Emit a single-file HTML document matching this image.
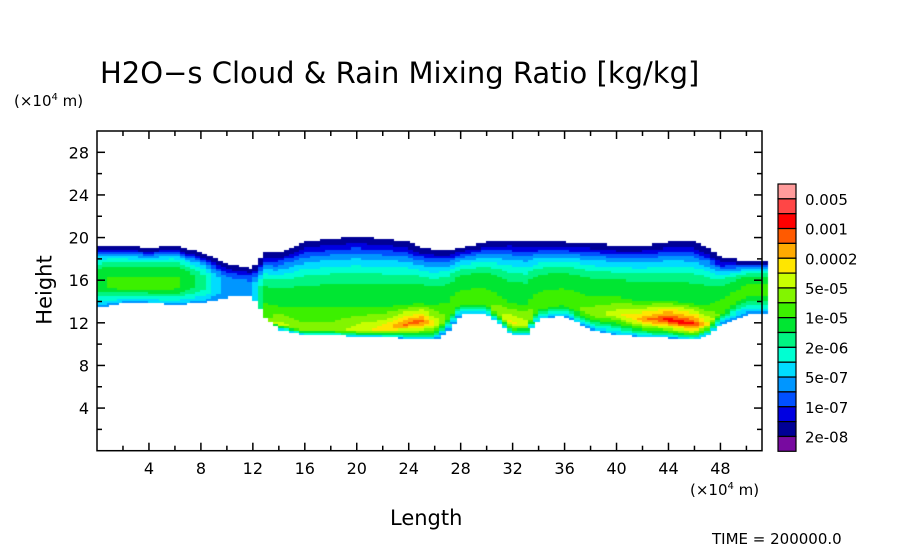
<!DOCTYPE html>
<html><head><meta charset="utf-8"><style>
body{margin:0;background:#fff;width:904px;height:544px;overflow:hidden;position:relative;font-family:"DejaVu Sans","Liberation Sans",sans-serif}
.t{position:absolute;white-space:nowrap;color:#000}
</style></head><body>
<div class="t" style="left:100px;top:56px;font-size:29px">H2O−s Cloud &amp; Rain Mixing Ratio [kg/kg]</div>
<div class="t" style="left:14px;top:92px;font-size:15px">(×10<sup style="font-size:10px">4</sup> m)</div>
<div class="t" style="left:690px;top:481px;font-size:15px">(×10<sup style="font-size:10px">4</sup> m)</div>
<div class="t" style="left:10px;top:278px;font-size:21px;transform:rotate(-90deg);transform-origin:center">Height</div>
<div class="t" style="left:390px;top:506px;font-size:21px">Length</div>
<div class="t" style="left:712px;top:530px;font-size:15px">TIME = 200000.0</div>
<canvas id="c" width="904" height="544" style="position:absolute;left:0;top:0"></canvas>
<svg id="s" width="904" height="544" style="position:absolute;left:0;top:0"></svg>
<script>
const xs=[0,2,4,6,8,10,12,13,14,16,18,20,22,24,25,26,27,28,30,32,33,34,36,38,40,42,44,46,47,48,50,51.2];
const tops=[19.2,19.2,19,19.2,18.5,17.5,17,18.5,18.5,19.5,19.8,20,19.8,19.5,19,18.8,18.8,19,19.5,19.7,19.5,19.5,19.5,19.4,19.2,19.2,19.5,19.5,19,18,17.8,17.8];
const bottoms=[13.5,14,14,13.8,14,14.5,14.5,12.5,11.5,11,11,10.8,10.8,10.6,10.5,10.5,11.5,13,13,11,11,12.5,12.8,11.5,11,10.8,10.7,10.5,11,12,13,13];
const peaks=[8,9,9,9,7,4,4,9,11,10,10,11,12,14,14,12,9,9,9,12,11,9,9,10,11,13,15,15,12,9,9,9];
const peakH=[15.5,15.5,15.5,15.5,15.5,15,15,12.5,12,11.5,11.5,11.5,11.5,12,12.3,12,12.5,14,14,12,12,13.5,14,13,13,12.5,12.5,12,12,13,15,15];
const levelColors=["#780aa0","#000096","#0000e1","#0050ff","#0096ff","#00dcff","#00ffd2","#00f582","#00e632","#3cf000","#82f500","#c8ff00","#ffe600","#ffaa00","#ff5a00","#ff0000","#ff4646","#ff9b9b"];
const legendLabels=["0.005","0.001","0.0002","5e-05","1e-05","2e-06","5e-07","1e-07","2e-08"];
const yTicks=[4,8,12,16,20,24,28];
const xTicks=[4,8,12,16,20,24,28,32,36,40,44,48];
const X0=97,X1=762,Y0=450.7,Y1=131,XMAX=51.2,YMAX=30;
const sx=v=>X0+(X1-X0)*v/XMAX, sy=v=>Y0-(Y0-Y1)*v/YMAX;
function interp(arr,x){for(let i=0;i<xs.length-1;i++){if(x<=xs[i+1]){const t=(x-xs[i])/(xs[i+1]-xs[i]);return arr[i]+(arr[i+1]-arr[i])*t;}}return arr[arr.length-1];}
const ctx=document.getElementById('c').getContext('2d');
for(let x=0;x<XMAX;x+=0.4){const xc=x+0.2;const tp=interp(tops,xc),bt=interp(bottoms,xc),pk=interp(peaks,xc),ph=interp(peakH,xc);
 for(let h=8;h<22;h+=0.2){const hc=h+0.1;if(hc>tp||hc<bt)continue;let lv,d;
  const base=Math.min(pk,8.5);
  if(hc>=ph){d=(hc-ph)/Math.max(tp-ph,0.1);
   lv=d<0.25?pk-(pk-base)*(d/0.25):base-(base-0.5)*Math.pow((d-0.25)/0.75,2);}
  else{d=(ph-hc)/Math.max(ph-bt,0.1);lv=pk-(pk-4)*Math.pow(d,1.3);}
  lv=Math.max(0,Math.min(17,Math.round(lv)));ctx.fillStyle=levelColors[lv];
  ctx.fillRect(Math.floor(sx(x)),Math.floor(sy(h+0.2)),Math.ceil(sx(x+0.4)-sx(x))+1,Math.ceil(sy(h)-sy(h+0.2))+1);}}
const s=document.getElementById('s');const NS='http://www.w3.org/2000/svg';
function el(t,a,txt){const e=document.createElementNS(NS,t);for(const k in a)e.setAttribute(k,a[k]);if(txt!==undefined)e.textContent=txt;s.appendChild(e);return e;}
let f=el('rect',{x:X0,y:Y1,width:X1-X0,height:Y0-Y1,fill:'none',stroke:'#000','stroke-width':1.5});


for(let v=2;v<30;v+=2){const L=v%4==0?8:5;const y=sy(v);
 el('line',{x1:X0,x2:X0+L,y1:y,y2:y,stroke:'#000','stroke-width':1.5});el('line',{x1:X1,x2:X1-L,y1:y,y2:y,stroke:'#000','stroke-width':1.5});}
for(let v=2;v<51;v+=2){const L=v%4==0?8:5;const x=sx(v);
 el('line',{x1:x,x2:x,y1:Y0,y2:Y0-L,stroke:'#000','stroke-width':1.5});el('line',{x1:x,x2:x,y1:Y1,y2:Y1+L,stroke:'#000','stroke-width':1.5});}
yTicks.forEach(v=>{const t=el('text',{x:X0-8,y:sy(v)+6,'text-anchor':'end','font-size':16,'font-family':'DejaVu Sans,sans-serif'},v);
 
 });
xTicks.forEach(v=>{const t=el('text',{x:sx(v),y:474,'text-anchor':'middle','font-size':16,'font-family':'DejaVu Sans,sans-serif'},v);
 
 });
const LX=778,LT=184,LH=14.85,n=levelColors.length;
for(let i=0;i<n;i++){const r=el('rect',{x:LX,y:LT+i*LH,width:18,height:LH,fill:levelColors[n-1-i],stroke:'#000','stroke-width':1.2});
 
 }
legendLabels.forEach((l,i)=>{const t=el('text',{x:805,y:LT+LH*(1+2*i)+6,'font-size':15,'font-family':'DejaVu Sans,sans-serif'},l);
 
 });
</script>
</body></html>
